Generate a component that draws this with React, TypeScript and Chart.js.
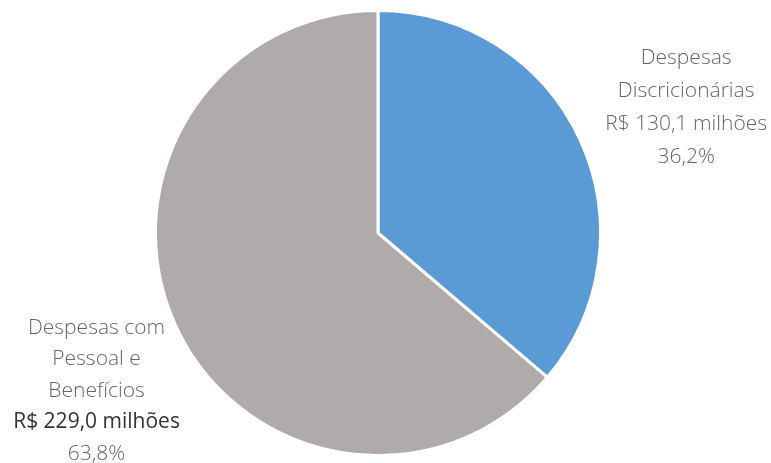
import React, { useEffect, useRef } from "react";
import { Chart, registerables } from "chart.js";

Chart.register(...registerables);

const categories = ["Despesas Discricionárias", "Despesas com Pessoal e Benefícios"];
const values = [130.1, 229.0];
const valueLabels = ["R$ 130,1 milhões", "R$ 229,0 milhões"];
const percentLabels = ["36,2%", "63,8%"];
const nameLines = [["Despesas", "Discricionárias"], ["Despesas com", "Pessoal e", "Benefícios"]];
const colors = ["#5B9BD5", "#AFABAB"];

const LIGHT = "#666666";
const DARK = "#333333";
const FONT = "'Open Sans', 'Noto Sans', sans-serif";

const labelPlugin = {
  id: "sideLabels",
  afterDraw(chart: any) {
    const ctx = chart.ctx;
    const meta = chart.getDatasetMeta(0);
    const arc = meta.data[0];
    const cx = arc.x;
    const cy = arc.y;
    const r = arc.outerRadius;
    ctx.save();
    ctx.textAlign = "center";
    ctx.textBaseline = "middle";
    // right label (index 0)
    {
      const lh = 33;
      const x = cx + r * 1.385;
      const y = cy - r * 0.785;
      const lines = [...nameLines[0], valueLabels[0], percentLabels[0]];
      lines.forEach((t, i) => {
        ctx.font = `300 21px ${FONT}`;
        ctx.fillStyle = LIGHT;
        ctx.fillText(t, x, y + i * lh);
      });
    }
    // left label (index 1)
    {
      const lh = 31.5;
      const x = cx - r * 1.265;
      const y = cy + r * 0.425;
      const lines = [...nameLines[1], valueLabels[1], percentLabels[1]];
      lines.forEach((t, i) => {
        const isValue = i === nameLines[1].length;
        ctx.font = isValue ? `400 21px ${FONT}` : `300 21px ${FONT}`;
        ctx.fillStyle = isValue ? DARK : LIGHT;
        ctx.fillText(t, x, y + i * lh);
      });
    }
    ctx.restore();
  },
};

export default function App() {
  const ref = useRef<HTMLCanvasElement | null>(null);
  useEffect(() => {
    const prevMargin = document.body.style.margin;
    document.body.style.margin = "0";
    const chart = new Chart(ref.current as HTMLCanvasElement, {
      type: "pie",
      data: {
        labels: categories,
        datasets: [
          {
            data: values,
            backgroundColor: colors,
            borderColor: "#ffffff",
            borderWidth: 3,
          },
        ],
      },
      options: {
        responsive: false,
        animation: false,
        layout: { padding: { left: 154, right: 169, top: 9, bottom: 6 } },
        plugins: {
          legend: { display: false },
          tooltip: { enabled: false },
        },
      },
      plugins: [labelPlugin],
    });
    return () => {
      chart.destroy();
      document.body.style.margin = prevMargin;
    };
  }, []);
  return (
    <div style={{ width: 771, height: 463, background: "#fff" }}>
      <canvas ref={ref} width={771} height={463} style={{ display: "block" }} />
    </div>
  );
}
